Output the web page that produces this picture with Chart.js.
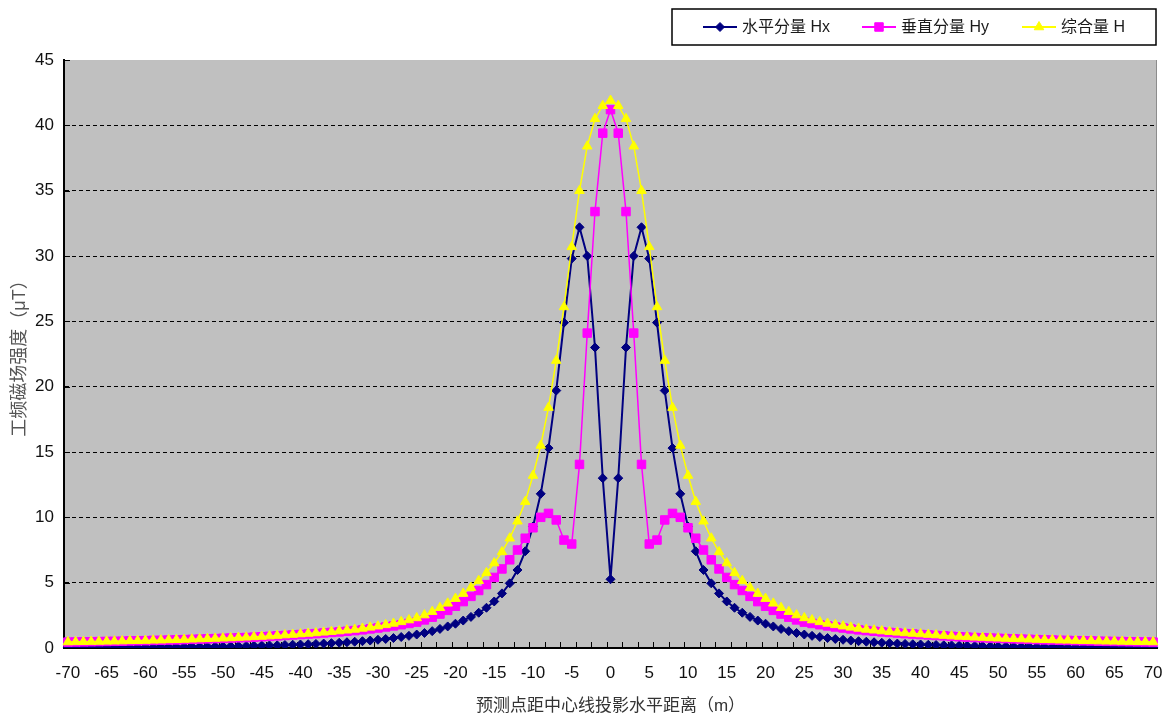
<!DOCTYPE html>
<html>
<head>
<meta charset="utf-8">
<script src="https://cdn.jsdelivr.net/npm/chart.js@4.4.0/dist/chart.umd.min.js"></script>
<style>
    html, body { margin: 0; padding: 0; background: #fff; }
</style>
</head>
<body>
<canvas id="fieldChart" width="1166" height="715"></canvas>
<script>
// distance from line centre (m)
const distances = [
    -70, -69, -68, -67, -66, -65, -64, -63, -62, -61, -60,
    -59, -58, -57, -56, -55, -54, -53, -52, -51, -50,
    -49, -48, -47, -46, -45, -44, -43, -42, -41, -40,
    -39, -38, -37, -36, -35, -34, -33, -32, -31, -30,
    -29, -28, -27, -26, -25, -24, -23, -22, -21, -20,
    -19, -18, -17, -16, -15, -14, -13, -12, -11, -10,
    -9, -8, -7, -6, -5, -4, -3, -2, -1,
    0,
    1, 2, 3, 4, 5, 6, 7, 8, 9, 10,
    11, 12, 13, 14, 15, 16, 17, 18, 19, 20,
    21, 22, 23, 24, 25, 26, 27, 28, 29, 30,
    31, 32, 33, 34, 35, 36, 37, 38, 39, 40,
    41, 42, 43, 44, 45, 46, 47, 48, 49, 50,
    51, 52, 53, 54, 55, 56, 57, 58, 59, 60,
    61, 62, 63, 64, 65, 66, 67, 68, 69, 70
];

// 水平分量 Hx (μT)
const hx = [
    0.05, 0.05, 0.06, 0.06, 0.06, 0.06, 0.07, 0.07, 0.07, 0.08, 0.08,
    0.08, 0.09, 0.09, 0.10, 0.10, 0.11, 0.11, 0.12, 0.13, 0.13,
    0.14, 0.15, 0.16, 0.17, 0.19, 0.20, 0.21, 0.23, 0.25, 0.27,
    0.29, 0.31, 0.34, 0.37, 0.40, 0.44, 0.48, 0.52, 0.57, 0.63,
    0.69, 0.76, 0.84, 0.93, 1.03, 1.15, 1.29, 1.46, 1.65, 1.86,
    2.10, 2.38, 2.70, 3.08, 3.56, 4.18, 4.95, 5.97, 7.4, 9.3,
    11.8, 15.3, 19.7, 24.9, 29.8, 32.2, 30.0, 23.0, 13.0,
    5.26,
    13.0, 23.0, 30.0, 32.2, 29.8, 24.9, 19.7, 15.3, 11.8, 9.3,
    7.4, 5.97, 4.95, 4.18, 3.56, 3.08, 2.70, 2.38, 2.10, 1.86,
    1.65, 1.46, 1.29, 1.15, 1.03, 0.93, 0.84, 0.76, 0.69, 0.63,
    0.57, 0.52, 0.48, 0.44, 0.40, 0.37, 0.34, 0.31, 0.29, 0.27,
    0.25, 0.23, 0.21, 0.20, 0.19, 0.17, 0.16, 0.15, 0.14, 0.13,
    0.13, 0.12, 0.11, 0.11, 0.10, 0.10, 0.09, 0.09, 0.08, 0.08,
    0.08, 0.07, 0.07, 0.07, 0.06, 0.06, 0.06, 0.06, 0.05, 0.05
];

// 垂直分量 Hy (μT)
const hy = [
    0.45, 0.46, 0.47, 0.48, 0.49, 0.50, 0.51, 0.52, 0.54, 0.55, 0.56,
    0.58, 0.59, 0.61, 0.62, 0.64, 0.66, 0.68, 0.70, 0.72, 0.74,
    0.76, 0.78, 0.80, 0.83, 0.86, 0.89, 0.93, 0.96, 1.00, 1.03,
    1.07, 1.10, 1.15, 1.19, 1.23, 1.28, 1.33, 1.39, 1.46, 1.53,
    1.61, 1.69, 1.78, 1.88, 1.98, 2.15, 2.36, 2.6, 2.88, 3.2,
    3.55, 3.95, 4.4, 4.85, 5.4, 6.05, 6.75, 7.5, 8.4, 9.2,
    10.0, 10.3, 9.8, 8.26, 7.96, 14.05, 24.1, 33.4, 39.4,
    41.2,
    39.4, 33.4, 24.1, 14.05, 7.96, 8.26, 9.8, 10.3, 10.0, 9.2,
    8.4, 7.5, 6.75, 6.05, 5.4, 4.85, 4.4, 3.95, 3.55, 3.2,
    2.88, 2.6, 2.36, 2.15, 1.98, 1.88, 1.78, 1.69, 1.61, 1.53,
    1.46, 1.39, 1.33, 1.28, 1.23, 1.19, 1.15, 1.10, 1.07, 1.03,
    1.00, 0.96, 0.93, 0.89, 0.86, 0.83, 0.80, 0.78, 0.76, 0.74,
    0.72, 0.70, 0.68, 0.66, 0.64, 0.62, 0.61, 0.59, 0.58, 0.56,
    0.55, 0.54, 0.52, 0.51, 0.50, 0.49, 0.48, 0.47, 0.46, 0.45
];

// 综合量 H (μT)
const hTotal = [
    0.46, 0.47, 0.48, 0.49, 0.50, 0.51, 0.52, 0.53, 0.55, 0.56, 0.57,
    0.59, 0.60, 0.62, 0.63, 0.65, 0.67, 0.69, 0.71, 0.73, 0.75,
    0.77, 0.80, 0.82, 0.85, 0.88, 0.91, 0.95, 0.99, 1.03, 1.07,
    1.11, 1.15, 1.20, 1.25, 1.30, 1.36, 1.42, 1.50, 1.58, 1.67,
    1.77, 1.88, 2.00, 2.14, 2.30, 2.52, 2.78, 3.08, 3.42, 3.78,
    4.17, 4.62, 5.15, 5.75, 6.5, 7.35, 8.4, 9.7, 11.2, 13.2,
    15.5, 18.4, 22.0, 26.1, 30.7, 35.0, 38.4, 40.5, 41.5,
    41.9,
    41.5, 40.5, 38.4, 35.0, 30.7, 26.1, 22.0, 18.4, 15.5, 13.2,
    11.2, 9.7, 8.4, 7.35, 6.5, 5.75, 5.15, 4.62, 4.17, 3.78,
    3.42, 3.08, 2.78, 2.52, 2.30, 2.14, 2.00, 1.88, 1.77, 1.67,
    1.58, 1.50, 1.42, 1.36, 1.30, 1.25, 1.20, 1.15, 1.11, 1.07,
    1.03, 0.99, 0.95, 0.91, 0.88, 0.85, 0.82, 0.80, 0.77, 0.75,
    0.73, 0.71, 0.69, 0.67, 0.65, 0.63, 0.62, 0.60, 0.59, 0.57,
    0.56, 0.55, 0.53, 0.52, 0.51, 0.50, 0.49, 0.48, 0.47, 0.46
];

const seriesNames = ['水平分量 Hx', '垂直分量 Hy', '综合量 H'];
const yMin = 0, yMax = 45, yStep = 5;
const xLabelEvery = 5;

const fontFamily = '"Liberation Sans", Arial, "Noto Sans CJK SC", sans-serif';

// grey plot area + thin right edge
const plotBackground = {
    id: 'plotBackground',
    beforeDraw(chart) {
        const {ctx, chartArea: a} = chart;
        ctx.save();
        ctx.fillStyle = '#C0C0C0';
        ctx.fillRect(a.left, a.top, a.right - a.left, a.bottom - a.top);
        ctx.strokeStyle = '#8c8c8c';
        ctx.lineWidth = 1;
        ctx.beginPath();
        ctx.moveTo(a.right - 0.5, a.top);
        ctx.lineTo(a.right - 0.5, a.bottom);
        ctx.stroke();
        ctx.restore();
    }
};

// excel style tick marks pointing into the plot
const innerTicks = {
    id: 'innerTicks',
    beforeDatasetsDraw(chart) {
        const {ctx, chartArea: a, scales: {x, y}} = chart;
        ctx.save();
        ctx.strokeStyle = '#000';
        ctx.lineWidth = 1;
        ctx.beginPath();
        for (let k = 0; k <= distances.length; k += 2) {
            const px = Math.round(x.getPixelForValue(k - 0.5)) + 0.5;
            ctx.moveTo(px, a.bottom);
            ctx.lineTo(px, a.bottom - 6);
        }
        y.ticks.forEach(t => {
            const py = Math.round(y.getPixelForValue(t.value)) + 0.5;
            ctx.moveTo(a.left, py);
            ctx.lineTo(a.left + 6, py);
        });
        ctx.stroke();
        ctx.restore();
    }
};

function markerPath(ctx, style, x, y, r) {
    ctx.beginPath();
    if (style === 'rectRot') {
        ctx.moveTo(x, y - r);
        ctx.lineTo(x + r, y);
        ctx.lineTo(x, y + r);
        ctx.lineTo(x - r, y);
    } else if (style === 'rect') {
        const s = r * Math.SQRT1_2;
        ctx.rect(x - s, y - s, 2 * s, 2 * s);
    } else {
        for (let i = 0; i < 3; i++) {
            const ang = i * 2 * Math.PI / 3;
            const px = x + Math.sin(ang) * r, py = y - Math.cos(ang) * r;
            if (i === 0) ctx.moveTo(px, py); else ctx.lineTo(px, py);
        }
    }
    ctx.closePath();
}

// boxed legend, top right
const boxLegend = {
    id: 'boxLegend',
    afterDraw(chart) {
        const ctx = chart.ctx;
        const itemX = [703, 862, 1022];
        const midY = 27;
        ctx.save();
        ctx.strokeStyle = '#000';
        ctx.lineWidth = 1.5;
        ctx.strokeRect(672, 9, 484, 36);
        chart.data.datasets.forEach((ds, i) => {
            const x0 = itemX[i];
            ctx.strokeStyle = ds.borderColor;
            ctx.lineWidth = 2;
            ctx.beginPath();
            ctx.moveTo(x0, midY);
            ctx.lineTo(x0 + 34, midY);
            ctx.stroke();
            ctx.fillStyle = ds.backgroundColor;
            ctx.lineWidth = 1;
            markerPath(ctx, ds.pointStyle, x0 + 17, midY, ds.pointRadius);
            ctx.fill();
            ctx.stroke();
            ctx.fillStyle = '#1a1a1a';
            ctx.font = '16px ' + fontFamily;
            ctx.textBaseline = 'middle';
            ctx.textAlign = 'left';
            ctx.fillText(ds.label, x0 + 39, midY + 1);
        });
        ctx.restore();
    }
};

const ctx = document.getElementById('fieldChart').getContext('2d');
const fieldChart = new Chart(ctx, {
    type: 'line',
    data: {
        labels: distances,
        datasets: [
            {
                label: seriesNames[0],
                data: hx,
                borderColor: '#000080',
                backgroundColor: '#000080',
                borderWidth: 2,
                pointStyle: 'rectRot',
                pointRadius: 4.5,
                pointBorderWidth: 1,
                order: 3
            },
            {
                label: seriesNames[1],
                data: hy,
                borderColor: '#FF00FF',
                backgroundColor: '#FF00FF',
                borderWidth: 1.5,
                pointStyle: 'rect',
                pointRadius: 6,
                pointBorderWidth: 1,
                order: 2
            },
            {
                label: seriesNames[2],
                data: hTotal,
                borderColor: '#FFFF00',
                backgroundColor: '#FFFF00',
                borderWidth: 1.5,
                pointStyle: 'triangle',
                pointRadius: 5.5,
                pointBorderWidth: 1,
                order: 1
            }
        ]
    },
    options: {
        responsive: false,
        animation: false,
        devicePixelRatio: 1,
        layout: {padding: {top: 60, right: 9, bottom: 0, left: 0}},
        plugins: {
            legend: {display: false},
            tooltip: {enabled: false}
        },
        scales: {
            x: {
                type: 'category',
                offset: true,
                grid: {display: false, drawTicks: false},
                border: {display: true, color: '#000', width: 2},
                ticks: {
                    autoSkip: false,
                    maxRotation: 0,
                    minRotation: 0,
                    padding: 15,
                    color: '#111',
                    font: {family: fontFamily, size: 17},
                    callback: function(value) {
                        const d = this.getLabelForValue(value);
                        return d % xLabelEvery === 0 ? String(d) : '';
                    }
                },
                title: {
                    display: true,
                    text: '预测点距中心线投影水平距离（m）',
                    color: '#333',
                    font: {family: fontFamily, size: 17, lineHeight: 1},
                    padding: {top: 0, bottom: 0}
                },
                afterFit: function(scale) {
                    scale.height = 67;
                    scale.paddingLeft = 0;
                    scale.paddingRight = 0;
                }
            },
            y: {
                min: yMin,
                max: yMax,
                grid: {
                    drawTicks: false,
                    lineWidth: 1,
                    color: function(c) {
                        if (!c.tick) return '#000';
                        return (c.tick.value === yMin || c.tick.value === yMax) ? 'rgba(0,0,0,0)' : '#000';
                    }
                },
                border: {display: true, color: '#000', width: 2, dash: [4, 3]},
                ticks: {
                    stepSize: yStep,
                    padding: 10,
                    color: '#111',
                    font: {family: fontFamily, size: 17}
                },
                title: {
                    display: true,
                    text: '工频磁场强度（μT）',
                    color: '#555',
                    font: {family: fontFamily, size: 18},
                    padding: {top: 9, bottom: 0}
                },
                afterFit: function(scale) { scale.width = 64; }
            }
        }
    },
    plugins: [plotBackground, innerTicks, boxLegend]
});
</script>
</body>
</html>
